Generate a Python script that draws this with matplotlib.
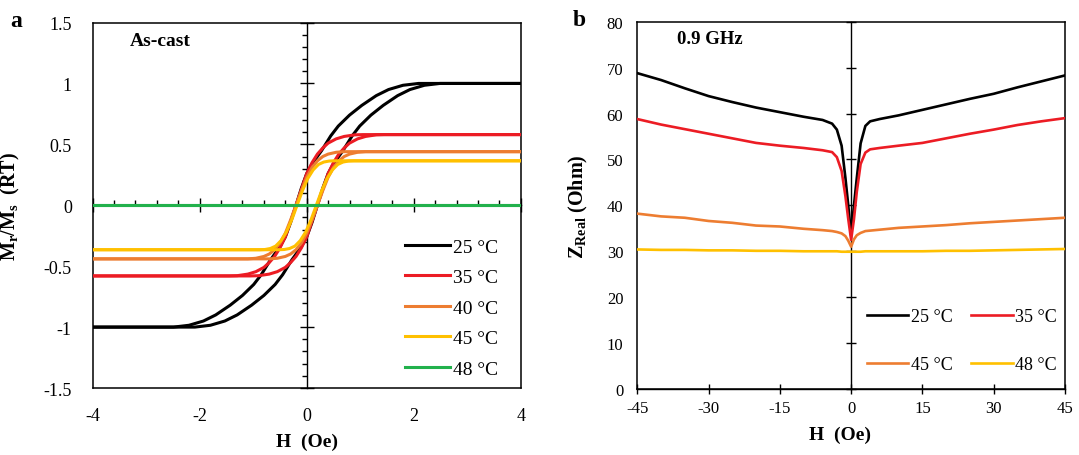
import numpy as np
import matplotlib.pyplot as plt
from matplotlib.ticker import MultipleLocator, FuncFormatter

plt.rcParams['font.family'] = 'Liberation Serif'
plt.rcParams['mathtext.fontset'] = 'custom'
plt.rcParams['mathtext.rm'] = 'Liberation Serif:bold'
plt.rcParams['mathtext.default'] = 'rm'
plt.rcParams['axes.unicode_minus'] = False

# ---- panel a : normalised M-H loops
loop_labels = ['25 °C', '35 °C', '40 °C', '45 °C', '48 °C']
loop_colors = ['#000000', '#ec1c24', '#ed7d31', '#ffc000', '#22b14c']

# descending branch (upper curve) / ascending branch (lower curve)
h_dn_25 = [-4, -2.49, -2.2, -1.93, -1.7, -1.43, -1.2, -0.99, -0.85, -0.68, -0.5, -0.4, -0.3,
           -0.2, -0.1, 0.0, 0.1, 0.28, 0.45, 0.59, 0.8, 1.03, 1.3, 1.53, 1.8, 2.09, 4]
h_up_25 = [-4, -2.09, -1.8, -1.53, -1.3, -1.03, -0.8, -0.59, -0.45, -0.28, -0.1, 0.0, 0.1,
           0.2, 0.3, 0.4, 0.5, 0.68, 0.85, 0.99, 1.2, 1.43, 1.7, 1.93, 2.2, 2.49, 4]
m_25 = [-1, -1, -0.985, -0.95, -0.9, -0.82, -0.74, -0.65, -0.57, -0.45, -0.34, -0.26, -0.14,
        0, 0.14, 0.26, 0.34, 0.45, 0.57, 0.65, 0.74, 0.82, 0.9, 0.95, 0.985, 1.0, 1.0]

h_dn_35 = [-4, -1.45, -1.3, -1.1, -0.95, -0.8, -0.7, -0.6, -0.5, -0.4, -0.3,
           -0.2, -0.1, 0.0, 0.1, 0.2, 0.3, 0.4, 0.55, 0.7, 0.9, 1.05, 4]
h_up_35 = [-4, -1.05, -0.9, -0.7, -0.55, -0.4, -0.3, -0.2, -0.1, 0.0, 0.1,
           0.2, 0.3, 0.4, 0.5, 0.6, 0.7, 0.8, 0.95, 1.1, 1.3, 1.45, 4]
m_35 = [-0.58, -0.58, -0.578, -0.565, -0.545, -0.51, -0.47, -0.42, -0.35, -0.26, -0.13,
        0, 0.13, 0.26, 0.35, 0.42, 0.47, 0.51, 0.545, 0.565, 0.578, 0.58, 0.58]

h_dn_40 = [-4, -1.1, -0.95, -0.8, -0.7, -0.6, -0.5, -0.4, -0.3,
           -0.2, -0.1, 0.0, 0.1, 0.2, 0.3, 0.4, 0.55, 0.7, 4]
h_up_40 = [-4, -0.7, -0.55, -0.4, -0.3, -0.2, -0.1, 0.0, 0.1,
           0.2, 0.3, 0.4, 0.5, 0.6, 0.7, 0.8, 0.95, 1.1, 4]
m_40 = [-0.44, -0.44, -0.435, -0.42, -0.40, -0.365, -0.31, -0.23, -0.12,
        0, 0.12, 0.23, 0.31, 0.365, 0.40, 0.42, 0.435, 0.44, 0.44]

h_dn_45 = [-4, -0.88, -0.78, -0.68, -0.58, -0.48, -0.38, -0.28,
           -0.18, -0.08, 0.02, 0.12, 0.22, 0.32, 0.42, 0.52, 4]
h_up_45 = [-4, -0.52, -0.42, -0.32, -0.22, -0.12, -0.02, 0.08,
           0.18, 0.28, 0.38, 0.48, 0.58, 0.68, 0.78, 0.88, 4]
m_45 = [-0.365, -0.365, -0.363, -0.355, -0.335, -0.29, -0.22, -0.12,
        0, 0.12, 0.22, 0.29, 0.335, 0.355, 0.363, 0.365, 0.365]

h_dn_48 = [-4, 4]
h_up_48 = [-4, 4]
m_48 = [0, 0]

loops = [(h_dn_25, h_up_25, m_25),
         (h_dn_35, h_up_35, m_35),
         (h_dn_40, h_up_40, m_40),
         (h_dn_45, h_up_45, m_45),
         (h_dn_48, h_up_48, m_48)]

# ---- panel b : real part of impedance at 0.9 GHz
z_labels = ['25 °C', '35 °C', '45 °C', '48 °C']
z_colors = ['#000000', '#ec1c24', '#ed7d31', '#ffc000']

h_z = [-45, -40, -35, -30, -25, -20, -15, -10, -6, -4, -3, -2, -1.2, -0.6, 0,
       0.6, 1.2, 2, 3, 4, 6, 10, 15, 20, 25, 30, 35, 40, 45]
z_25 = [68.8, 67.3, 65.5, 63.8, 62.5, 61.3, 60.3, 59.3, 58.6, 57.8, 56.5, 53.0, 46.0, 40.0, 33.5,
        40.0, 46.0, 53.5, 57.3, 58.3, 58.8, 59.6, 60.8, 62.0, 63.2, 64.3, 65.7, 67.0, 68.3]
z_35 = [58.8, 57.6, 56.6, 55.6, 54.6, 53.6, 53.0, 52.5, 52.0, 51.6, 50.5, 47.5, 42.0, 37.0, 32.5,
        37.0, 43.0, 49.0, 51.5, 52.2, 52.5, 53.0, 53.6, 54.6, 55.6, 56.5, 57.5, 58.3, 59.0]
z_45 = [38.2, 37.6, 37.3, 36.6, 36.2, 35.6, 35.4, 34.9, 34.6, 34.4, 34.2, 33.9, 33.3, 32.3, 31.0,
        32.6, 33.5, 34.0, 34.4, 34.5, 34.7, 35.1, 35.4, 35.7, 36.1, 36.4, 36.7, 37.0, 37.3]
z_48 = [30.4, 30.3, 30.3, 30.2, 30.2, 30.1, 30.1, 30.0, 30.0, 30.0, 30.0, 29.9, 29.9, 29.9, 29.9,
        29.9, 29.9, 29.9, 30.0, 30.0, 30.0, 30.0, 30.0, 30.1, 30.1, 30.2, 30.3, 30.4, 30.5]
z_curves = [z_25, z_35, z_45, z_48]

fmt = FuncFormatter(lambda v, p: '%g' % v)

fig = plt.figure(figsize=(10.79, 4.56), dpi=100)


def two_layer(rect, xlim, ylim):
    # bottom layer: box and tick labels at the frame; top layer: data + centred axes
    box = fig.add_axes(rect)
    ax = fig.add_axes(rect)
    ax.patch.set_visible(False)
    for a in (box, ax):
        a.set_xlim(xlim)
        a.set_ylim(ylim)
    for s in box.spines.values():
        s.set_linewidth(1.1)
    ax.spines['top'].set_visible(False)
    ax.spines['right'].set_visible(False)
    ax.spines['left'].set_position(('data', 0))
    ax.spines['left'].set_linewidth(1.0)
    ax.spines['bottom'].set_linewidth(1.0)
    box.xaxis.set_major_formatter(fmt)
    box.yaxis.set_major_formatter(fmt)
    return box, ax


# ---------------- panel a
box_a, ax_a = two_layer([0.0859, 0.1469, 0.3967, 0.8015], (-4, 4), (-1.5, 1.5))
ax_a.spines['bottom'].set_position(('data', 0))
for a in (box_a, ax_a):
    a.xaxis.set_major_locator(MultipleLocator(2))
    a.yaxis.set_major_locator(MultipleLocator(0.5))
ax_a.xaxis.set_minor_locator(MultipleLocator(0.4))
ax_a.yaxis.set_minor_locator(MultipleLocator(0.1))
ax_a.tick_params(axis='x', which='major', direction='inout', length=9.5, width=1.0, labelbottom=False)
ax_a.tick_params(axis='x', which='minor', direction='in', length=3.6, width=1.0)
ax_a.tick_params(axis='y', which='major', direction='inout', length=10, width=1.0, labelleft=False)
ax_a.tick_params(axis='y', which='minor', direction='out', length=3.6, width=1.0)
box_a.tick_params(axis='x', length=0, pad=14, labelsize=13)
box_a.tick_params(axis='y', length=0, pad=15, labelsize=13)

for (hd, hu, m), lab, col in zip(loops, loop_labels, loop_colors):
    ax_a.plot(hd, m, color=col, lw=2.2, label=lab, zorder=3)
    ax_a.plot(hu, m, color=col, lw=2.2, zorder=3)

ax_a.legend(loc='upper left', bbox_to_anchor=(0.73, 0.41), frameon=False, fontsize=14,
            handlelength=2.3, handletextpad=0.15, labelspacing=0.66, borderpad=0, borderaxespad=0)
box_a.set_xlabel('H  (Oe)', fontsize=14, fontweight='bold')
box_a.xaxis.set_label_coords(0.5, -0.122)
box_a.set_ylabel(r'M$_{r}$/M$_{s}$  (RT)', fontsize=14.5, fontweight='bold')
box_a.yaxis.set_label_coords(-0.165, 0.5)
ax_a.text(0.087, 0.951, 'As-cast', transform=ax_a.transAxes, fontsize=14,
          fontweight='bold', va='center', ha='left')
fig.text(0.0095, 0.952, 'a', fontsize=17, fontweight='bold', va='center', ha='left')

# ---------------- panel b
box_b, ax_b = two_layer([0.5906, 0.1447, 0.3964, 0.8055], (-45, 45), (0, 80))
for a in (box_b, ax_b):
    a.xaxis.set_major_locator(MultipleLocator(15))
    a.yaxis.set_major_locator(MultipleLocator(10))
ax_b.tick_params(axis='both', which='major', direction='inout', length=7.7, width=1.0,
                 labelbottom=False, labelleft=False)
box_b.tick_params(axis='x', length=0, pad=8, labelsize=12)
box_b.tick_params(axis='y', length=0, pad=10, labelsize=12)

z_lines = []
for z, lab, col in zip(z_curves, z_labels, z_colors):
    ln, = ax_b.plot(h_z, z, color=col, lw=1.9, label=lab, zorder=3)
    z_lines.append(ln)

order = [0, 2, 1, 3]  # rows: 25/35 then 45/48
ax_b.legend([z_lines[i] for i in order], [z_labels[i] for i in order],
            loc='upper left', bbox_to_anchor=(0.537, 0.221), ncol=2, frameon=False, fontsize=13,
            handlelength=2.3, handletextpad=0.15, labelspacing=1.73, columnspacing=1.0,
            borderpad=0, borderaxespad=0)
box_b.set_xlabel('H  (Oe)', fontsize=14, fontweight='bold')
box_b.xaxis.set_label_coords(0.474, -0.1)
box_b.set_ylabel(r'Z$_{Real}$ (Ohm)', fontsize=14.5, fontweight='bold')
box_b.yaxis.set_label_coords(-0.111, 0.5)
ax_b.text(0.092, 0.953, '0.9 GHz', transform=ax_b.transAxes, fontsize=13.5,
          fontweight='bold', va='center', ha='left')
fig.text(0.531, 0.955, 'b', fontsize=17, fontweight='bold', va='center', ha='left')

fig.savefig('out.png', dpi=100)
